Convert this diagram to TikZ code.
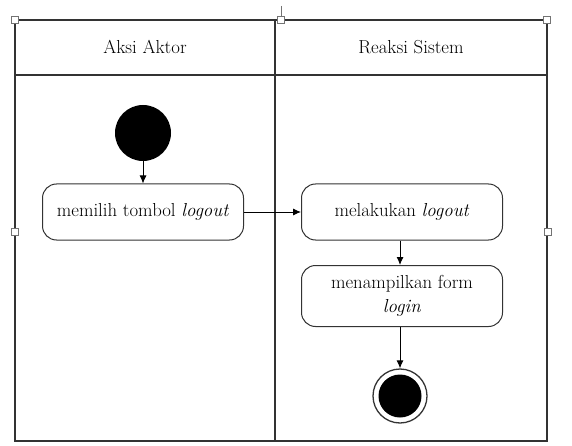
\documentclass[tikz,border=0pt]{standalone}
\usepackage{fontspec}
\usetikzlibrary{arrows.meta}

\begin{document}
\begin{tikzpicture}[x=1pt, y=-1pt,
  lane/.style={line width=1.3pt, draw=black!80},
  act/.style={draw=black!80, line width=1pt, rounded corners=14pt, align=center,
    minimum width=201pt, minimum height=56pt, inner sep=2pt},
  flow/.style={-{Latex[length=8pt, width=7pt]}, line width=0.9pt},
  grip/.style={draw=black!55, fill=white, line width=0.6pt, minimum size=7pt, inner sep=0pt}]

  \fontsize{18.8}{24}\selectfont

  \useasboundingbox (0,0) rectangle (572,446);

  %% swimlanes
  \draw[lane] (15,20) rectangle (547,441);
  \draw[lane] (15,75) -- (547,75);
  \draw[lane] (275,20) -- (275,441);

  \node (aktor)  at (145,47) {Aksi Aktor};
  \node (sistem) at (411,47) {Reaksi Sistem};

  %% frame handles
  \draw[black!55, line width=0.6pt] (281,6) -- (281,20);
  \node[grip] (g1) at (15,20) {};
  \node[grip] (g2) at (281,20) {};
  \node[grip] (g3) at (547,20) {};
  \node[grip] (g4) at (15,232) {};
  \node[grip] (g5) at (548,232) {};

  %% activities
  \node[circle, fill=black, minimum size=56pt, inner sep=0pt] (start) at (143,133) {};
  \node[act] (pilih) at (143,212) {memilih tombol \textit{logout}};
  \node[act] (logout) at (402,212) {melakukan \textit{logout}};
  \node[act, minimum height=61pt] (tampil) at (402,296) {menampilkan form\\\textit{login}};
  \node[circle, draw=black!80, line width=1.3pt, minimum size=54pt, inner sep=0pt] (stop) at (400,396) {};
  \fill (stop.center) circle (21.5pt);

  \draw[flow] (start) -- (pilih); %% start->pilih
  \draw[flow] (pilih) -- (logout); %% pilih->logout
  \draw[flow] (logout.south -| stop) -- (tampil.north -| stop); %% logout->tampil
  \draw[flow] (tampil.south -| stop) -- (stop); %% tampil->stop
\end{tikzpicture}
\end{document}
